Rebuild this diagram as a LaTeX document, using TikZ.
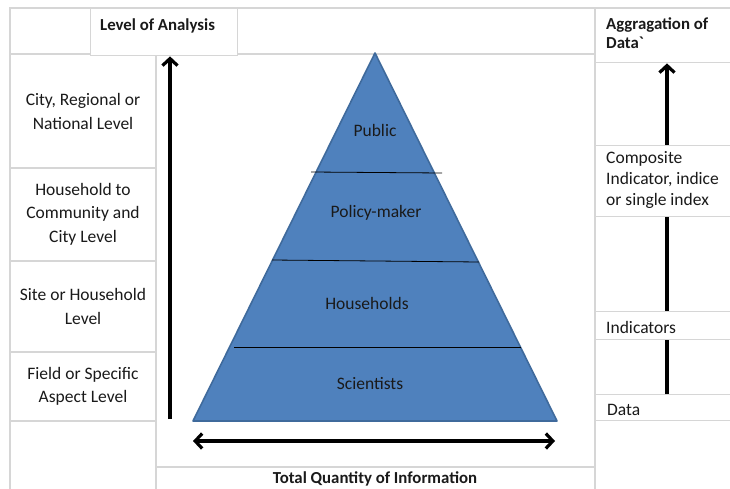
\documentclass[tikz,border=0pt]{standalone}
\usepackage{fontspec}
\setmainfont{Carlito}
\usetikzlibrary{arrows.meta}
\definecolor{gridc}{HTML}{D6D6D6}
\definecolor{pyr}{HTML}{4F81BD}
\definecolor{pyredge}{HTML}{3F6A9C}
\definecolor{txt}{HTML}{1A1A1A}
\begin{document}
\begin{tikzpicture}[x=1pt,y=-1pt,
  gridline/.style={draw=gridc,line width=1.4pt},
  tbox/.style={draw=gridc,line width=1.4pt,fill=white,rectangle,anchor=north west,inner sep=0pt},
  lefttxt/.style={font=\fontsize{17.5}{23.5}\selectfont,align=center,text=txt},
  righttxt/.style={font=\fontsize{17.5}{21}\selectfont,align=left,anchor=west,text=txt,inner sep=0pt},
  pyrtxt/.style={font=\fontsize{17.5}{19}\selectfont,text=txt},
  boldtxt/.style={font=\fontsize{16.8}{19}\selectfont\bfseries,text=txt},
  barb/.tip={Straight Barb[length=7pt,width=15pt,line width=3.2pt]},
  bigarrow/.style={line width=3.2pt,-barb},
  divider/.style={draw=black,line width=0.8pt}]
\useasboundingbox (0,0) rectangle (730,489);
\fill[white] (0,0) rectangle (730,489);
% table grid
\draw[gridline] (10,489) -- (10,8) -- (735,8);
\draw[gridline] (10,54) -- (595,54);
\draw[gridline] (156,54) -- (156,489);
\draw[gridline] (10,168) -- (156,168);
\draw[gridline] (10,261) -- (156,261);
\draw[gridline] (10,352) -- (156,352);
\draw[gridline] (10,421) -- (156,421);
\draw[gridline] (156,467) -- (595,467);
\draw[gridline] (595,8) -- (595,489);
% left column texts
\node[lefttxt] (c1) at (83,111.5) {City, Regional or\\National Level};
\node[lefttxt] (c2) at (83,214) {Household to\\Community and\\City Level};
\node[lefttxt] (c3) at (83,306.5) {Site or Household\\Level};
\node[lefttxt] (c4) at (83,386.5) {Field or Specific\\Aspect Level};
% header boxes
\node[tbox,minimum width=147pt,minimum height=47pt] (loa) at (90,8) {};
\node[boldtxt,anchor=west,inner sep=0pt] (loat) at (100,26) {Level of Analysis};
% right arrow (behind boxes)
\coordinate (rax) at (667,0);
\node[tbox,minimum width=140pt,minimum height=54pt] (agg) at (595,8) {};
\node[tbox,minimum width=140pt,minimum height=26pt] (data) at (595,394) {};
\draw[bigarrow] (data.north -| rax) -- (agg.south -| rax);
\node[tbox,minimum width=140pt,minimum height=71pt] (comp) at (595,145) {};
\node[tbox,minimum width=140pt,minimum height=28pt] (ind) at (595,311) {};
\node[righttxt,boldtxt,anchor=west,align=left,inner sep=0pt] (aggt) at (606,33.5) {Aggragation of\\Data\textasciigrave};
\node[righttxt] (compt) at (606,179.5) {Composite\\Indicator, indice\\or single index};
\node[righttxt] (indt) at (606,327) {Indicators};
\node[righttxt] (datat) at (607,410) {Data};
% pyramid
\coordinate (apex) at (375,53);
\coordinate (bl) at (193,421);
\coordinate (br) at (557,421);
\filldraw[fill=pyr,draw=pyredge,line width=1.6pt,line join=round] (apex) -- (br) -- (bl) -- cycle;
\coordinate (d1a) at (311,172); \coordinate (d1b) at (442,173);
\coordinate (d2a) at (272,260); \coordinate (d2b) at (479,262);
\coordinate (d3a) at (234,347); \coordinate (d3b) at (521,347);
\draw[divider] (d1a) -- (d1b);
\draw[divider] (d2a) -- (d2b);
\draw[divider] (d3a) -- (d3b);
\node[pyrtxt] (pub) at (375,130) {Public};
\node[pyrtxt] (pol) at (376,213) {Policy-maker};
\node[pyrtxt] (hh) at (367,303) {Households};
\node[pyrtxt] (sci) at (370,384) {Scientists};
% left vertical arrow
\coordinate (lab) at (170,419);
\draw[bigarrow] (lab) -- (loa.south -| lab);
% horizontal double arrow
\coordinate (hl) at (193,441);
\coordinate (hr) at (555,441);
\draw[line width=3.2pt,barb-barb] (hl) -- (hr);
% bottom label
\node[boldtxt] (tq) at (375,478.5) {Total Quantity of Information};
\end{tikzpicture}
\end{document}
